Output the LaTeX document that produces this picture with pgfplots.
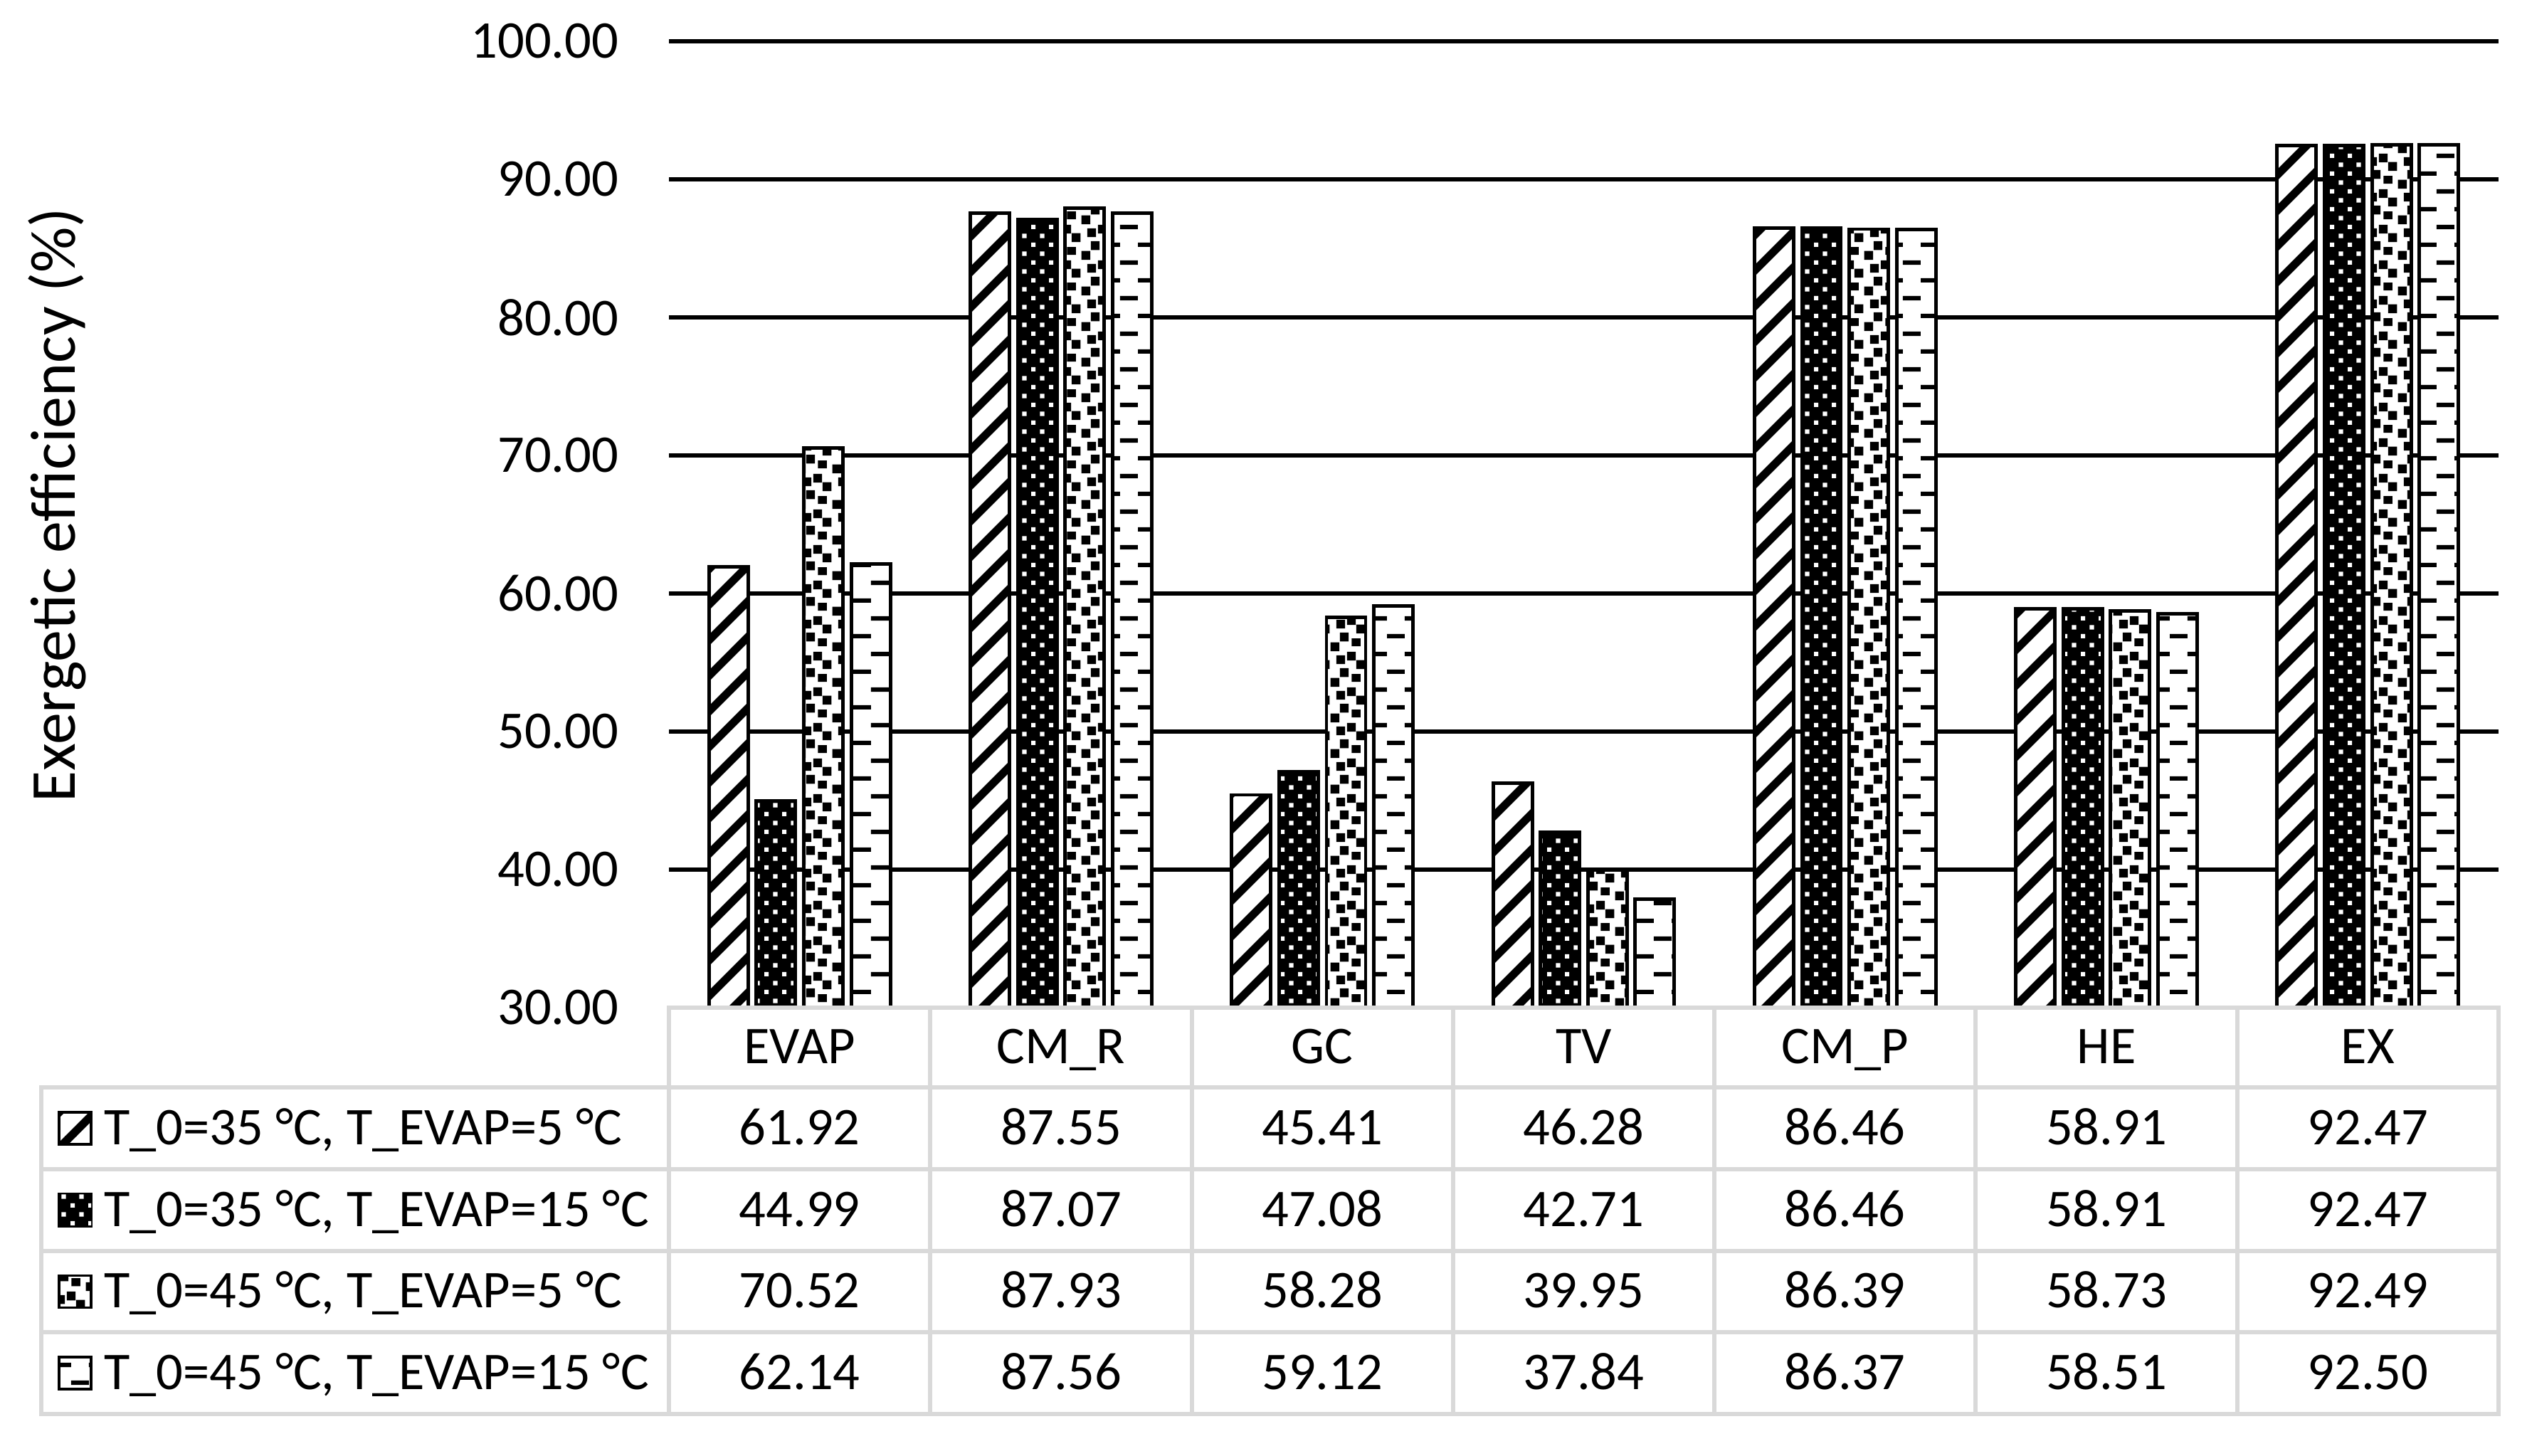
\documentclass[border=0pt]{standalone}
\usepackage{fontspec}
\setmainfont{Carlito}
\usepackage{pgfplots}
\pgfplotsset{compat=1.18}
\usepackage{pgfplotstable}
\usetikzlibrary{patterns}

% unit u = 0.889pt, tile 8u = 7.11pt
\pgfdeclarepatternformonly{xdiag}{\pgfpointorigin}{\pgfpoint{7.11pt}{7.11pt}}{\pgfpoint{7.11pt}{7.11pt}}{%
  \pgfsetlinewidth{1.6pt}%
  \pgfpathmoveto{\pgfpoint{-1pt}{-1pt}}\pgfpathlineto{\pgfpoint{8.11pt}{8.11pt}}%
  \pgfpathmoveto{\pgfpoint{-1pt}{6.11pt}}\pgfpathlineto{\pgfpoint{1pt}{8.11pt}}%
  \pgfpathmoveto{\pgfpoint{6.11pt}{-1pt}}\pgfpathlineto{\pgfpoint{8.11pt}{1pt}}%
  \pgfusepath{stroke}}
\pgfdeclarepatternformonly{wdots}{\pgfpointorigin}{\pgfpoint{3.556pt}{3.556pt}}{\pgfpoint{3.556pt}{3.556pt}}{%
  \pgfpathrectangle{\pgfpointorigin}{\pgfpoint{0.889pt}{0.889pt}}%
  \pgfpathrectangle{\pgfpoint{1.778pt}{1.778pt}}{\pgfpoint{0.889pt}{0.889pt}}%
  \pgfusepath{fill}}
\pgfdeclarepatternformonly{confetti}{\pgfpointorigin}{\pgfpoint{7.11pt}{7.11pt}}{\pgfpoint{7.11pt}{7.11pt}}{%
  \pgfpathrectangle{\pgfpoint{0.07pt}{5.52pt}}{\pgfpoint{1.76pt}{1.76pt}}%
  \pgfpathrectangle{\pgfpoint{2.94pt}{4.54pt}}{\pgfpoint{1.76pt}{1.76pt}}%
  \pgfpathrectangle{\pgfpoint{4.10pt}{1.96pt}}{\pgfpoint{1.76pt}{1.76pt}}%
  \pgfpathrectangle{\pgfpoint{0.99pt}{0.99pt}}{\pgfpoint{1.76pt}{1.76pt}}%
  \pgfpathrectangle{\pgfpoint{-0.88pt}{2.67pt}}{\pgfpoint{1.76pt}{1.76pt}}%
  \pgfpathrectangle{\pgfpoint{6.23pt}{2.67pt}}{\pgfpoint{1.76pt}{1.76pt}}%
  \pgfpathrectangle{\pgfpoint{4.81pt}{-0.61pt}}{\pgfpoint{1.76pt}{1.76pt}}%
  \pgfpathrectangle{\pgfpoint{4.81pt}{6.50pt}}{\pgfpoint{1.76pt}{1.76pt}}%
  \pgfusepath{fill}}
\pgfdeclarepatternformonly{hdash}{\pgfpointorigin}{\pgfpoint{7.11pt}{7.11pt}}{\pgfpoint{7.11pt}{7.11pt}}{%
  \pgfpathrectangle{\pgfpointorigin}{\pgfpoint{3.556pt}{0.889pt}}%
  \pgfpathrectangle{\pgfpoint{3.556pt}{3.556pt}}{\pgfpoint{3.556pt}{0.889pt}}%
  \pgfusepath{fill}}

\definecolor{tgray}{HTML}{D9D9D9}

\pgfplotstableread{
x s1 s2 s3 s4
0 61.92 44.99 70.52 62.14
1 87.55 87.07 87.93 87.56
2 45.41 47.08 58.28 59.12
3 46.28 42.71 39.95 37.84
4 86.46 86.46 86.39 86.37
5 58.91 58.91 58.73 58.51
6 92.47 92.47 92.49 92.50
}\datatable

\tikzset{
  s1style/.style={draw=black, line width=0.7pt, fill=white, postaction={pattern=xdiag}},
  s2style/.style={draw=black, line width=0.7pt, fill=black, postaction={pattern=wdots, pattern color=white}},
  s3style/.style={draw=black, line width=0.7pt, fill=white, postaction={pattern=confetti}},
  s4style/.style={draw=black, line width=0.7pt, fill=white, postaction={pattern=hdash}},
  tcell/.style={inner sep=0pt, text height=0.644em, text depth=0pt, font=\fontsize{10.6}{12}\selectfont},
}

\begin{document}
\begin{tikzpicture}
\path[use as bounding box] (0,0) rectangle (17.755,10.23);
\begin{axis}[
  at={(4.70cm,3.15cm)}, anchor=south west,
  scale only axis, width=12.855cm, height=6.79cm,
  xmin=-0.5, xmax=6.5, ymin=30, ymax=100,
  xtick=\empty,
  ytick={40,50,...,100},
  extra y ticks={30}, extra y tick style={grid=none},
  ymajorgrids, grid style={black, line width=0.85pt},
  axis line style={draw=none},
  major tick length=0pt,
  yticklabel={\pgfmathprintnumber[fixed,fixed zerofill,precision=2,assume math mode=true]{\tick}},
  yticklabel style={font=\fontsize{10.6}{12}\selectfont, xshift=-0.23cm},
  ybar=0.058cm, bar width=0.275cm,
  ylabel={Exergetic efficiency (\%)},
  every axis y label/.style={at={(axis description cs:-0.3345,0.52)}, rotate=90, anchor=center, font=\fontsize{12.8}{14}\selectfont},
]
\addplot[s1style] table[x=x,y=s1]{\datatable};
\addplot[s2style] table[x=x,y=s2]{\datatable};
\addplot[s3style] table[x=x,y=s3]{\datatable};
\addplot[s4style] table[x=x,y=s4]{\datatable};
\end{axis}

% data table grid
\begin{scope}[draw=tgray, line width=0.85pt, line cap=rect]
  \draw (4.70,3.15) -- (17.555,3.15);
  \foreach \y in {2.59,2.015,1.44,0.87,0.295} \draw (0.29,\y) -- (17.555,\y);
  \draw (0.29,0.295) -- (0.29,2.59);
  \foreach \i in {0,...,7} \draw ({4.70+\i*1.836429},0.295) -- ({4.70+\i*1.836429},3.15);
\end{scope}

% category names
\foreach \n [count=\i from 0] in {EVAP,CM\_R,GC,TV,CM\_P,HE,EX}
  \node[tcell] at ({4.70+(\i+0.5)*1.836429},2.87) {\n};

% values
\foreach \col/\yy in {s1/2.3025,s2/1.7275,s3/1.155,s4/0.5825}{
  \foreach \r in {0,...,6}{
    \pgfplotstablegetelem{\r}{\col}\of\datatable
    \node[tcell] at ({4.70+(\r+0.5)*1.836429},\yy)
      {\pgfmathprintnumber[fixed,fixed zerofill,precision=2,assume math mode=true]{\pgfplotsretval}};
  }
}

% row labels with keys
\path[s1style, line width=0.5pt] (0.415,2.19) rectangle (0.64,2.415);
\path[s2style, line width=0.5pt] (0.415,1.615) rectangle (0.64,1.84);
\path[s3style, line width=0.5pt] (0.415,1.0425) rectangle (0.64,1.2675);
\path[s4style, line width=0.5pt] (0.415,0.47) rectangle (0.64,0.695);
\node[tcell, anchor=west] at (0.725,2.3025) {T\_0=35 °C, T\_EVAP=5 °C};
\node[tcell, anchor=west] at (0.725,1.7275) {T\_0=35 °C, T\_EVAP=15 °C};
\node[tcell, anchor=west] at (0.725,1.155) {T\_0=45 °C, T\_EVAP=5 °C};
\node[tcell, anchor=west] at (0.725,0.5825) {T\_0=45 °C, T\_EVAP=15 °C};
\end{tikzpicture}
\end{document}
